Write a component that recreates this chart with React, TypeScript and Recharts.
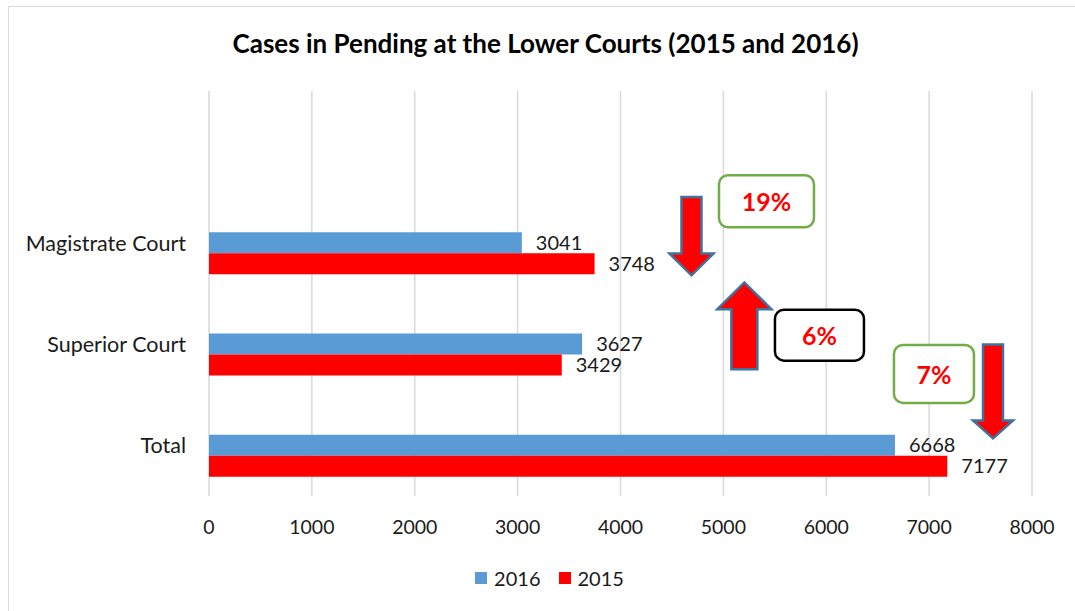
import React from 'react';
import { BarChart, Bar, XAxis, YAxis, CartesianGrid, LabelList, Legend, ReferenceDot } from 'recharts';

// ---- data ----
const categories = ['', 'Magistrate Court', 'Superior Court', 'Total'];
const values2016: (number | null)[] = [null, 3041, 3627, 6668];
const values2015: (number | null)[] = [null, 3748, 3429, 7177];
const xTicks = [0, 1000, 2000, 3000, 4000, 5000, 6000, 7000, 8000];
const seriesNames = ['2016', '2015'];
const seriesColors = ['#5B9BD5', '#FF0000'];

// ---- change annotations ----
const changeLabels = ['19%', '6%', '7%'];
const changeCategories = ['Magistrate Court', 'Superior Court', 'Total'];
const arrowX = [4690, 5204, 7621];
const boxX = [5419, 5934, 7047];

// shape geometry (pixels relative to anchor)
const arrowGeom = [
  { a: -46, b: 10.7, c: 32.4, sw: 20, hw: 44 },
  { a: 25, b: -35, c: -61.7, sw: 26, hw: 54 },
  { a: -101, b: -25, c: -7, sw: 20, hw: 40 },
];
const boxGeom = [
  { w: 95, h: 52, dy: -41.6, stroke: '#70AD47' },
  { w: 89, h: 51, dy: -9, stroke: '#000000' },
  { w: 80, h: 58, dy: -71.5, stroke: '#70AD47' },
];

const data = categories.map((c, i) => ({
  name: c,
  pad: null,
  v2016: values2016[i],
  v2015: values2015[i],
}));

const FONT = 'Lato, "Open Sans", sans-serif';
const TXT = '#1a1a1a';

const ArrowShape = (props: any) => {
  const { cx, cy, idx } = props;
  if (cx == null || cy == null) return null;
  const g = arrowGeom[idx];
  const s = g.sw / 2;
  const h = g.hw / 2;
  const pts = [
    [cx - s, cy + g.a],
    [cx + s, cy + g.a],
    [cx + s, cy + g.b],
    [cx + h, cy + g.b],
    [cx, cy + g.c],
    [cx - h, cy + g.b],
    [cx - s, cy + g.b],
  ];
  return (
    <path
      d={'M' + pts.map((p) => p.join(',')).join('L') + 'Z'}
      fill="#FF0000"
      stroke="#41719C"
      strokeWidth={2.5}
      strokeLinejoin="miter"
    />
  );
};

const BoxShape = (props: any) => {
  const { cx, cy, idx } = props;
  if (cx == null || cy == null) return null;
  const g = boxGeom[idx];
  const y = cy + g.dy;
  return (
    <g>
      <rect x={cx - g.w / 2} y={y - g.h / 2} width={g.w} height={g.h} rx={9} ry={9} fill="#FFFFFF" stroke={g.stroke} strokeWidth={2.5} />
      <text x={cx} y={y} textAnchor="middle" dominantBaseline="central" fill="#FF0000" fontFamily={FONT} fontWeight={700} fontSize={25}>
        {changeLabels[idx]}
      </text>
    </g>
  );
};

const renderLegend = () => (
  <div style={{ display: 'flex', justifyContent: 'center', alignItems: 'center', height: 40, fontFamily: FONT, fontSize: 20, color: TXT }}>
    {seriesNames.map((n, i) => (
      <div key={n} style={{ display: 'flex', alignItems: 'center', marginLeft: i === 0 ? 0 : 18 }}>
        <div style={{ width: 12, height: 12, background: seriesColors[i], marginRight: 7 }} />
        <span>{n}</span>
      </div>
    ))}
  </div>
);

export default function App() {
  return (
    <div style={{ position: 'absolute', left: 0, top: 0, width: 1075, height: 611, overflow: 'hidden', background: '#fff' }}>
      <div style={{ position: 'absolute', left: 8, top: 6, width: 1100, height: 640, border: '1.5px solid #D9D9D9', boxSizing: 'border-box' }} />
      <div style={{ position: 'absolute', left: 0, top: 28, width: 1091, textAlign: 'center', fontFamily: FONT, fontWeight: 700, fontSize: 26, lineHeight: '30px', color: '#000' }}>
        Cases in Pending at the Lower Courts (2015 and 2016)
      </div>
      <div style={{ position: 'absolute', left: 0, top: 0 }}>
        <BarChart
          width={1075}
          height={611}
          data={data}
          layout="vertical"
          margin={{ top: 91, right: 43, bottom: 0, left: 0 }}
          barGap={0}
          barSize={21}
        >
          <CartesianGrid horizontal={false} stroke="#D9D9D9" strokeWidth={1.5} />
          <XAxis
            type="number"
            domain={[0, 8000]}
            ticks={xTicks}
            axisLine={false}
            tickLine={false}
            tickSize={0}
            tickMargin={24}
            height={75}
            tick={{ fontFamily: FONT, fontSize: 19.5, fill: TXT }}
          />
          <YAxis
            type="category"
            dataKey="name"
            width={209}
            axisLine={false}
            tickLine={false}
            tickSize={0}
            tickMargin={23}
            interval={0}
            tick={{ fontFamily: FONT, fontSize: 21.5, fill: TXT }}
          />
          <Legend verticalAlign="bottom" content={renderLegend} wrapperStyle={{ top: 558, left: 24, width: 1051, height: 40 }} />
          <Bar dataKey="pad" fill="none" legendType="none" isAnimationActive={false} />
          <Bar dataKey="v2016" name={seriesNames[0]} fill={seriesColors[0]} isAnimationActive={false}>
            <LabelList dataKey="v2016" position="right" offset={14} fill={TXT} fontFamily={FONT} fontSize={20} />
          </Bar>
          <Bar dataKey="v2015" name={seriesNames[1]} fill={seriesColors[1]} isAnimationActive={false}>
            <LabelList dataKey="v2015" position="right" offset={14} fill={TXT} fontFamily={FONT} fontSize={20} />
          </Bar>
          {changeCategories.map((c, i) => (
            <ReferenceDot key={'a' + i} x={arrowX[i]} y={c} r={1} ifOverflow="visible" shape={(p: any) => <ArrowShape {...p} idx={i} />} />
          ))}
          {changeCategories.map((c, i) => (
            <ReferenceDot key={'b' + i} x={boxX[i]} y={c} r={1} ifOverflow="visible" shape={(p: any) => <BoxShape {...p} idx={i} />} />
          ))}
        </BarChart>
      </div>
    </div>
  );
}
